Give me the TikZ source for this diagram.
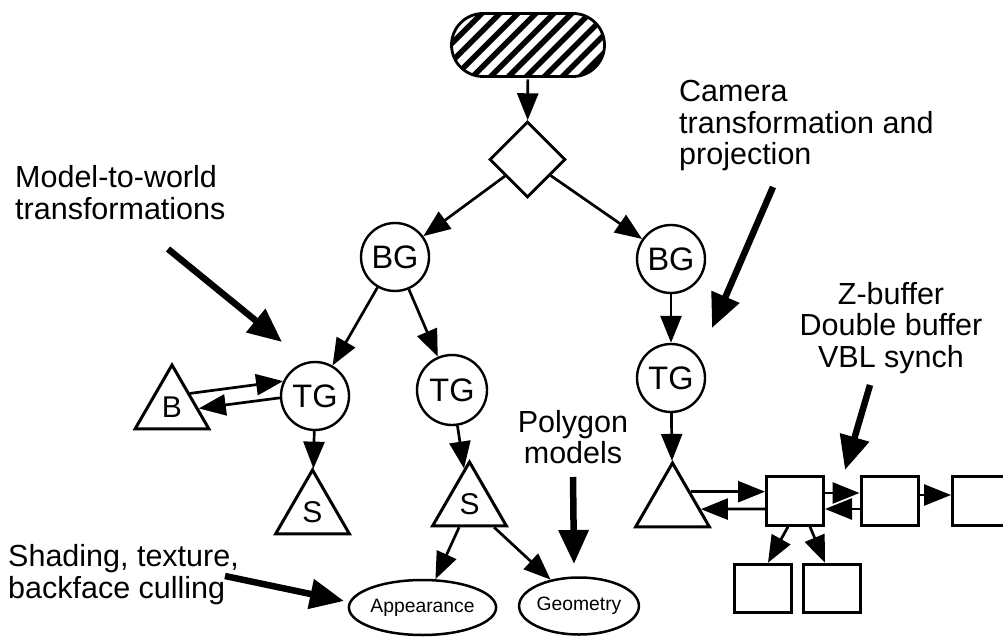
\documentclass[tikz,border=0pt]{standalone}
\usepackage{fontspec}
\setmainfont{Liberation Sans}
\usetikzlibrary{arrows.meta,shapes.geometric,shapes.misc,calc,patterns.meta}
\begin{document}
\begin{tikzpicture}[x=1pt,y=-1pt,
  arr/.style={line width=2.7pt,-{Triangle[length=27pt,width=21pt]}},
  big/.style={line width=6.5pt,-{Triangle[length=34pt,width=29pt]}},
  circ/.style={circle,draw,line width=2.4pt,minimum size=68pt,inner sep=0pt,font=\fontsize{32.5}{32.5}\selectfont},
  tri/.style={regular polygon,regular polygon sides=3,draw,line width=3pt,minimum size=85pt,inner sep=0pt,font=\fontsize{30}{30}\selectfont},
  box/.style={rectangle,draw,line width=3pt,minimum width=57pt,minimum height=48.5pt,inner sep=0pt},
  ell/.style={ellipse,draw,line width=2.5pt,inner sep=0pt,font=\fontsize{19.3}{19.3}\selectfont},
  lbl/.style={inner sep=0pt,font=\fontsize{30.5}{31.5}\selectfont}
]
\useasboundingbox (0,0) rectangle (1003,639);

% nodes
\node[rounded rectangle,draw,line width=2.8pt,minimum width=153pt,minimum height=63pt,inner sep=0pt,
      pattern={Lines[angle=45,distance=12.7pt,line width=5.5pt]}] (top) at (528,45) {};
\node[diamond,draw,line width=2.8pt,minimum width=76pt,minimum height=76pt,inner sep=0pt] (dia) at (527.5,159.5) {};
\node[circ] (bgl) at (395,257) {BG};
\node[circ] (bgr) at (671,259) {BG};
\node[circ] (tgl) at (315,396) {TG};
\node[circ,minimum size=70pt] (tgm) at (452,390) {TG};
\node[circ] (tgr) at (671,378) {TG};
\node[tri] (b) at (172,407.5) {B};
\node[tri] (sl) at (312.5,512.5) {S};
\node[tri] (sm) at (469.5,504.5) {S};
\node[tri] (trr) at (672.5,505.5) {};
\node[box] (box1) at (795,501) {};
\node[box] (box2) at (889.5,501) {};
\node[box] (box3) at (981,501) {};
\node[box] (box4) at (763,588.5) {};
\node[box] (box5) at (832,588.5) {};
\node[ell,minimum width=131pt,minimum height=55pt] (app) at (422.5,607.5) {Appearance};
\node[ell,minimum width=106pt,minimum height=57pt] (geo) at (579,606) {Geometry};

% labels
\node[lbl,anchor=north west,align=left] (camtxt) at (679,80.5) {Camera\\transformation and\\projection};
\node[lbl,anchor=north west,align=left] (mtwtxt) at (15,165.5) {Model-to-world\\transformations};
\node[lbl,anchor=north,align=center] (ztxt) at (891,282) {Z-buffer\\Double buffer\\VBL synch};
\node[lbl,anchor=north,align=center] (polytxt) at (573,410) {Polygon\\models};
\node[lbl,anchor=north west,align=left] (shtxt) at (8,544.5) {Shading, texture,\\backface culling};

% connectors
\draw[arr] (top) -- (dia);
\draw[arr] (dia) -- (bgl);
\draw[arr] (dia) -- (bgr);
\draw[arr] (bgl) -- (tgl);
\draw[arr] (bgl) -- (tgm);
\draw[arr] (bgr) -- (tgr);
\draw[arr] (tgl) -- (sl);
\draw[arr] (tgm) -- (sm);
\draw[arr] (tgr) -- (trr);
\draw[arr] (sm) -- (app);
\draw[arr] (sm) -- (geo);

\coordinate (bu) at ($(b.corner 1)!0.46!(b.corner 3)$);
\coordinate (bd) at ($(b.corner 1)!0.68!(b.corner 3)$);
\draw[arr] (bu) -- (tgl.155);
\draw[arr] (tgl.183) -- (bd);

\coordinate (tu) at ($(trr.corner 1)!0.464!(trr.corner 3)$);
\coordinate (td) at ($(trr.corner 1)!0.72!(trr.corner 3)$);
\draw[arr] (tu) -- (box1.west |- tu);
\draw[arr] ([yshift=-8pt]box1.west) -- (td);
\draw[arr] ([yshift=8pt]box1.east) -- ([yshift=8pt]box2.west);
\draw[arr] ([yshift=-8pt]box2.west) -- ([yshift=-8pt]box1.east);
\draw[arr] ([yshift=6pt]box2.east) -- ([yshift=6pt]box3.west);
\draw[arr] ([xshift=-7pt]box1.south) -- ([xshift=5pt]box4.north);
\draw[arr] ([xshift=15pt]box1.south) -- ([xshift=-7pt]box5.north);

% annotation arrows
\coordinate (m1) at (168,249);  \coordinate (m2) at (282,342);
\coordinate (c1) at (773,187);  \coordinate (c2) at (712,328);
\coordinate (z1) at (870,385);  \coordinate (z2) at (845,470);
\coordinate (p1) at (573,477);  \coordinate (p2) at (574,564);
\coordinate (s1) at (225,576);  \coordinate (s2) at (344,601);
\draw[big] (m1) -- (m2);
\draw[big] (c1) -- (c2);
\draw[big] (z1) -- (z2);
\draw[big] (p1) -- (p2);
\draw[big] (s1) -- (s2);
\end{tikzpicture}
\end{document}
